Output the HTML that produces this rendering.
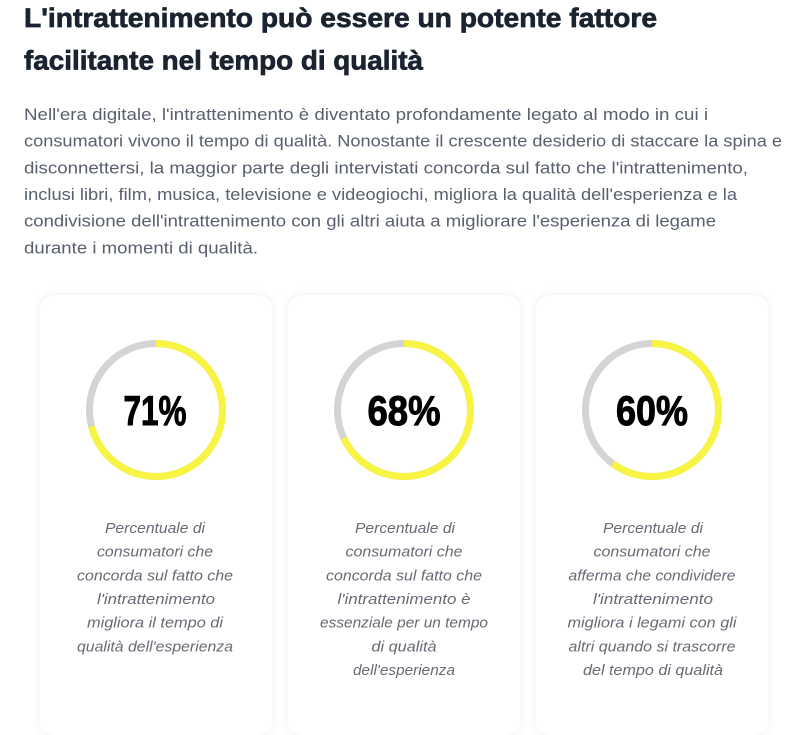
<!DOCTYPE html>
<html><head><meta charset="utf-8"><style>
html,body{margin:0;padding:0;background:#fff;width:800px;height:700px;overflow:hidden;}
.card{position:absolute;top:295px;width:232px;height:440px;background:#fff;border-radius:14px;box-shadow:0 0 10px rgba(0,0,0,0.07);}
svg{position:absolute;left:0;top:0;}
</style></head><body>
<div class="card" style="left:40px"></div>
<div class="card" style="left:288px"></div>
<div class="card" style="left:536px"></div>
<svg width="800" height="700" viewBox="0 0 800 700" xmlns="http://www.w3.org/2000/svg">
<g font-family="Liberation Sans, Arial, sans-serif" font-weight="bold" font-size="27" fill="#1b2331" stroke="#1b2331" stroke-width="0.7">
<text x="24" y="27" textLength="633" lengthAdjust="spacingAndGlyphs">L'intrattenimento può essere un potente fattore</text>
<text x="24" y="69.5" textLength="399" lengthAdjust="spacingAndGlyphs">facilitante nel tempo di qualità</text>
</g>
<g font-family="Liberation Sans, Arial, sans-serif" font-size="16.5" fill="#585f6d">
<text x="24" y="120" textLength="684" lengthAdjust="spacingAndGlyphs">Nell'era digitale, l'intrattenimento è diventato profondamente legato al modo in cui i</text>
<text x="24" y="146.7" textLength="758" lengthAdjust="spacingAndGlyphs">consumatori vivono il tempo di qualità. Nonostante il crescente desiderio di staccare la spina e</text>
<text x="24" y="173.3" textLength="724" lengthAdjust="spacingAndGlyphs">disconnettersi, la maggior parte degli intervistati concorda sul fatto che l'intrattenimento,</text>
<text x="24" y="200" textLength="713" lengthAdjust="spacingAndGlyphs">inclusi libri, film, musica, televisione e videogiochi, migliora la qualità dell'esperienza e la</text>
<text x="24" y="226.7" textLength="692" lengthAdjust="spacingAndGlyphs">condivisione dell'intrattenimento con gli altri aiuta a migliorare l'esperienza di legame</text>
<text x="24" y="253.3" textLength="234" lengthAdjust="spacingAndGlyphs">durante i momenti di qualità.</text>
</g>
<!-- rings -->
<g fill="none" stroke-width="7">
<circle cx="156" cy="410" r="66.5" stroke="#d4d4d4"/>
<circle cx="156" cy="410" r="66.5" stroke="#f7f443" stroke-dasharray="296.66 500" transform="rotate(-90 156 410)"/>
<circle cx="404" cy="410" r="66.5" stroke="#d4d4d4"/>
<circle cx="404" cy="410" r="66.5" stroke="#f7f443" stroke-dasharray="284.12 500" transform="rotate(-90 404 410)"/>
<circle cx="652" cy="410" r="66.5" stroke="#d4d4d4"/>
<circle cx="652" cy="410" r="66.5" stroke="#f7f443" stroke-dasharray="250.70 500" transform="rotate(-90 652 410)"/>
</g>
<g font-family="Liberation Sans, Arial, sans-serif" font-weight="bold" font-size="42" fill="#000" stroke="#000" stroke-width="1" text-anchor="middle">
<text x="155" y="425" textLength="63" lengthAdjust="spacingAndGlyphs">71%</text>
<text x="404" y="425" textLength="73" lengthAdjust="spacingAndGlyphs">68%</text>
<text x="652" y="425" textLength="72" lengthAdjust="spacingAndGlyphs">60%</text>
</g>
<g font-family="Liberation Sans, Arial, sans-serif" font-style="italic" font-size="15" fill="#676b75" text-anchor="middle">
<text x="155" y="533" textLength="100" lengthAdjust="spacingAndGlyphs">Percentuale di</text>
<text x="155" y="556.7" textLength="116" lengthAdjust="spacingAndGlyphs">consumatori che</text>
<text x="155" y="580.3" textLength="156" lengthAdjust="spacingAndGlyphs">concorda sul fatto che</text>
<text x="156" y="604" textLength="118" lengthAdjust="spacingAndGlyphs">l'intrattenimento</text>
<text x="155" y="627.7" textLength="136" lengthAdjust="spacingAndGlyphs">migliora il tempo di</text>
<text x="155" y="651.3" textLength="156" lengthAdjust="spacingAndGlyphs">qualità dell'esperienza</text>

<text x="405" y="533" textLength="100" lengthAdjust="spacingAndGlyphs">Percentuale di</text>
<text x="404" y="556.7" textLength="117" lengthAdjust="spacingAndGlyphs">consumatori che</text>
<text x="404" y="580.3" textLength="156" lengthAdjust="spacingAndGlyphs">concorda sul fatto che</text>
<text x="404" y="604" textLength="133" lengthAdjust="spacingAndGlyphs">l'intrattenimento è</text>
<text x="404" y="627.7" textLength="168" lengthAdjust="spacingAndGlyphs">essenziale per un tempo</text>
<text x="404" y="651.3" textLength="65" lengthAdjust="spacingAndGlyphs">di qualità</text>
<text x="404" y="675" textLength="102" lengthAdjust="spacingAndGlyphs">dell'esperienza</text>

<text x="653" y="533" textLength="100" lengthAdjust="spacingAndGlyphs">Percentuale di</text>
<text x="652" y="556.7" textLength="117" lengthAdjust="spacingAndGlyphs">consumatori che</text>
<text x="652" y="580.3" textLength="167" lengthAdjust="spacingAndGlyphs">afferma che condividere</text>
<text x="653" y="604" textLength="120" lengthAdjust="spacingAndGlyphs">l'intrattenimento</text>
<text x="652" y="627.7" textLength="169" lengthAdjust="spacingAndGlyphs">migliora i legami con gli</text>
<text x="652" y="651.3" textLength="167" lengthAdjust="spacingAndGlyphs">altri quando si trascorre</text>
<text x="653" y="675" textLength="140" lengthAdjust="spacingAndGlyphs">del tempo di qualità</text>
</g>
</svg>
</body></html>
